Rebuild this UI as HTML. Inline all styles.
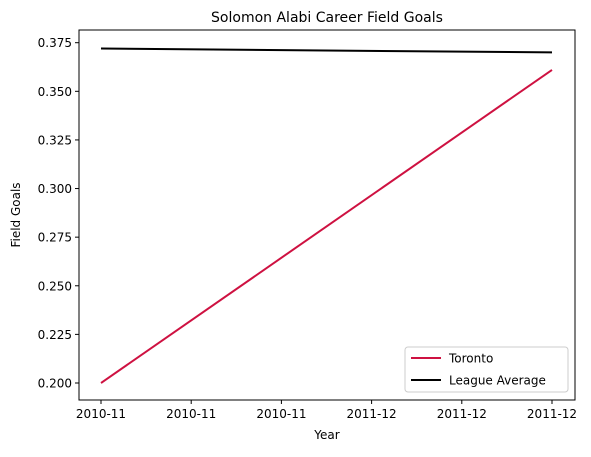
<!DOCTYPE html>
<html><head><meta charset="utf-8"><style>
body{margin:0;background:#fff;font-family:"DejaVu Sans","Liberation Sans",sans-serif;}
svg text{font-family:"DejaVu Sans","Liberation Sans",sans-serif;fill:#000;}
</style></head><body>
<svg id="chart" width="591" height="453" xmlns="http://www.w3.org/2000/svg">
<rect x="0" y="0" width="591" height="453" fill="#fff"/>
<g id="plot"></g>
</svg>
<script>
const xTickLabels=["2010-11","2010-11","2010-11","2011-12","2011-12","2011-12"];
const yTicks=[0.200,0.225,0.250,0.275,0.300,0.325,0.350,0.375];
const seasonsX=[0,1];
const torontoValues=[0.200,0.361];
const leagueValues=[0.372,0.370];
const L=79,R=575,T=30,B=400;
function xs(v){return 101+v*(552-101);}
function ys(v){return 383+(v-0.2)*(42.7-383)/0.175;}
const g=document.getElementById('plot');
const NS="http://www.w3.org/2000/svg";
function mk(t,a,p){const e=document.createElementNS(NS,t);for(const k in a)e.setAttribute(k,a[k]);(p||g).appendChild(e);return e;}
let e;
e=mk('text',{x:(L+R)/2,y:22,'text-anchor':'middle','font-size':'14'});e.textContent='Solomon Alabi Career Field Goals';


yTicks.forEach(v=>{const y=ys(v);
 e=mk('line',{x1:L-4,x2:L,y1:y,y2:y,stroke:'#000'});
 
 
 e=mk('text',{x:L-7,y:y+4.5,'text-anchor':'end','font-size':'12'});e.textContent=v.toFixed(3);
 
 
});
xTickLabels.forEach((s,i)=>{const x=xs(i/(xTickLabels.length-1));
 e=mk('line',{x1:x,x2:x,y1:B,y2:B+4,stroke:'#000'});
 
 
 e=mk('text',{x:x,y:B+18,'text-anchor':'middle','font-size':'12'});e.textContent=s;
 
 
});
e=mk('text',{x:(L+R)/2,y:439,'text-anchor':'middle','font-size':'12'});e.textContent='Year';


e=mk('text',{x:20,y:(T+B)/2,'text-anchor':'middle','font-size':'12',transform:`rotate(-90 20 ${(T+B)/2})`});e.textContent='Field Goals';


function line(vals,color,name){
 e=mk('polyline',{points:vals.map((v,i)=>xs(seasonsX[i])+','+ys(v)).join(' '),fill:'none',stroke:color,'stroke-width':2});
 
 
}
line(torontoValues,'#ce1141','toronto-line');
line(leagueValues,'#000','league-average-line');
e=mk('rect',{x:L,y:T,width:R-L,height:B-T,fill:'none',stroke:'#000','stroke-width':1});


const lg=mk('g',{});


mk('rect',{x:405,y:347,width:163,height:45,rx:3,fill:'#fff',stroke:'#ccc'},lg);
[['Toronto','#ce1141',358],['League Average','#000',380]].forEach(([t,c,y])=>{
 e=mk('line',{x1:411,x2:441,y1:y,y2:y,stroke:c,'stroke-width':2},lg);
 
 
 e=mk('text',{x:449,y:y+4.5,'font-size':'12'},lg);e.textContent=t;
 
 
});
</script>
</body></html>
